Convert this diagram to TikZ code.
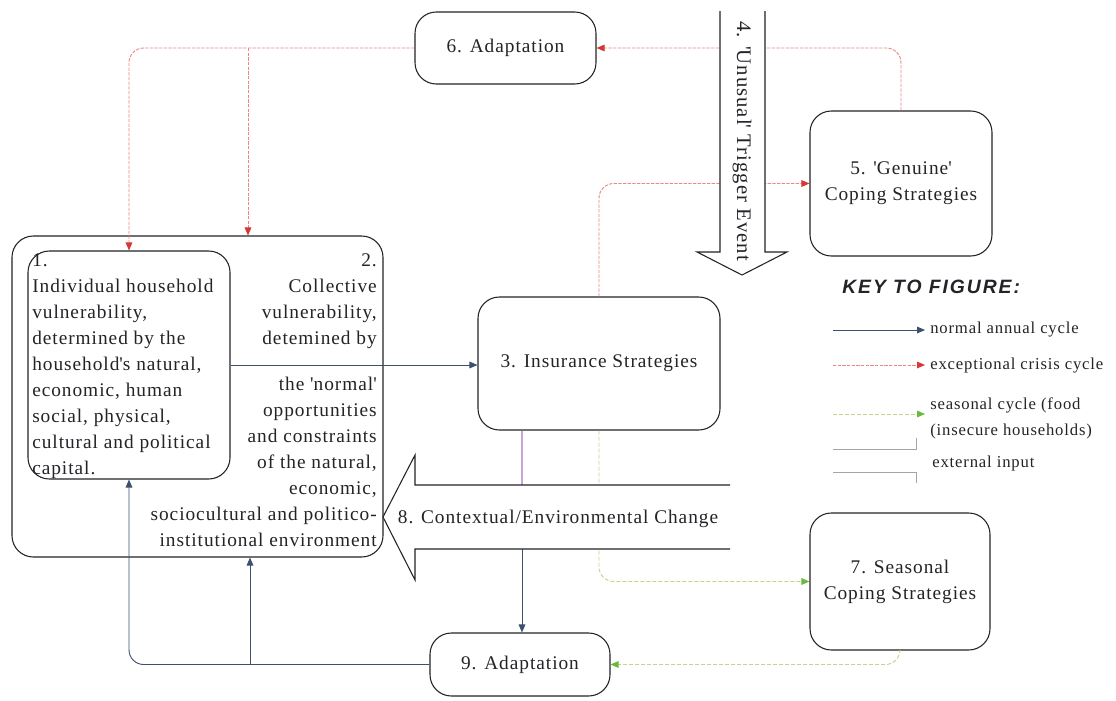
\documentclass[tikz,border=0pt]{standalone}
\usepackage{fontspec}
\setmainfont{Liberation Serif}[LetterSpace=5]
\newfontfamily\keyfont{Liberation Sans}[LetterSpace=10]
\usetikzlibrary{arrows.meta}
\definecolor{ink}{RGB}{35,35,40}
\definecolor{nblue}{RGB}{60,80,110}
\definecolor{cred}{RGB}{235,135,135}
\definecolor{credh}{RGB}{215,55,55}
\definecolor{sgreen}{RGB}{195,212,140}
\definecolor{sgreenh}{RGB}{105,185,60}
\definecolor{ppl}{RGB}{200,165,225}
\definecolor{gry}{RGB}{165,165,165}
\begin{document}
\begin{tikzpicture}[x=0.75pt,y=-0.75pt,
  box/.style={draw=ink, line width=0.8pt, rounded corners=16pt, align=center, inner sep=0pt, text=ink, font=\fontsize{14.5}{19.5}\selectfont},
  txt/.style={inner sep=0pt, text=ink, font=\fontsize{14.5}{19.5}\selectfont},
  keytxt/.style={inner sep=0pt, text=ink, align=left, font=\fontsize{12.5}{19.5}\selectfont},
  keyhead/.style={inner sep=0pt, text=ink, font=\keyfont\bfseries\itshape\fontsize{14.5}{16}\selectfont},
  normal/.style={nblue, line width=0.7pt, -{Triangle[length=6pt,width=5pt]}, rounded corners=11pt},
  crisis/.style={cred, line width=0.7pt, dash pattern=on 2.5pt off 1pt, -{Triangle[length=6pt,width=5pt,color=credh]}, rounded corners=11pt},
  seasonal/.style={sgreen, line width=0.7pt, dash pattern=on 3pt off 1.5pt, -{Triangle[length=6pt,width=5pt,color=sgreenh]}, rounded corners=11pt},
  ext/.style={ppl, line width=0.8pt},
  blockarrow/.style={draw=ink, line width=0.8pt, fill=white},
  keyline/.style={gry, line width=0.7pt}
]
\useasboundingbox (0,0) rectangle (1116,700);

% boxes
\node[box, minimum width=135.75pt, minimum height=54pt] (b6) at (505.5,48) {6. Adaptation};
\node[box, minimum width=136.5pt, minimum height=108.75pt] (b5) at (901,183.5) {5. \textquotesingle Genuine\textquotesingle\\Coping Strategies};
\node[box, minimum width=181.5pt, minimum height=99.75pt] (b3) at (599,363.5) {3. Insurance Strategies};
\node[box, minimum width=135pt, minimum height=102.75pt] (b7) at (900,581.5) {7. Seasonal\\Coping Strategies};
\node[box, minimum width=135pt, minimum height=47.25pt] (b9) at (520,664.5) {9. Adaptation};
\node[box, minimum width=278.25pt, minimum height=240.75pt] (b2) at (197.5,396.5) {};
\node[box, minimum width=151.5pt, minimum height=171pt] (b1) at (129,365) {};

% texts of boxes 1 and 2
\node[txt, anchor=north west, align=left] (t1) at (32,253) {1.\\Individual household\\vulnerability,\\determined by the\\household\textquotesingle s natural,\\economic, human\\social, physical,\\cultural and political\\capital.};
\node[txt, anchor=north east, align=right] (t2a) at (377,253) {2.\\Collective\\vulnerability,\\detemined by};
\node[txt, anchor=north east, align=right] (t2b) at (377,377) {the \textquotesingle normal\textquotesingle\\opportunities\\and constraints\\of the natural,\\economic,\\sociocultural and politico-\\institutional environment};

% coordinates on the block arrow 8
\coordinate (a8top) at (522,485);
\coordinate (a8bot) at (522,549);
\coordinate (br1) at (248,48);
\coordinate (br2) at (250,664.5);

% connectors
\draw[crisis] (b6.west) -| (b1.north);
\draw[crisis] (br1) -- (br1 |- b2.north);
\draw[crisis] (b5.north) |- (b6.east);
\draw[crisis] (b3.north) |- (b5.west);
\draw[normal] (b1.east) -- (b1.east -| b3.west);
\draw[ext] (b3.south -| a8top) -- (a8top);
\draw[seasonal] (b3.south) |- (b7.west);
\draw[normal] (a8bot) -- (a8bot |- b9.north);
\draw[seasonal] (b7.south) |- (b9.east);
\draw[normal] (b9.west) -| (b1.south);
\draw[normal] (br2) -- (br2 |- b2.south);

% block arrow 4
\draw[blockarrow] (720,11) -- (720,252) -- (697,252) -- (742,275) -- (787,252) -- (765,252) -- (765,11);
\node[txt, rotate=-90, font=\fontsize{15.5}{18}\selectfont] (t4) at (742,141) {4. \textquotesingle Unusual\textquotesingle\ Trigger Event};

% block arrow 8
\draw[blockarrow] (730,485) -- (415,485) -- (415,455) -- (383,517) -- (415,580) -- (415,549) -- (730,549);
\node[txt] (t8) at (558,519) {8. Contextual/Environmental Change};

% key
\node[keyhead, anchor=west] (kh) at (842,287) {KEY TO FIGURE:};
\coordinate (k1a) at (833,330); \coordinate (k1b) at (925,330);
\coordinate (k2a) at (833,365); \coordinate (k2b) at (925,365);
\coordinate (k3a) at (833,414); \coordinate (k3b) at (925,414);
\draw[normal] (k1a) -- (k1b);
\draw[crisis] (k2a) -- (k2b);
\draw[seasonal] (k3a) -- (k3b);
\node[keytxt, anchor=west] (k1) at (930,330) {normal annual cycle};
\node[keytxt, anchor=west] (k2) at (930,366) {exceptional crisis cycle};
\node[keytxt, anchor=west] (k3) at (930,418) {seasonal cycle (food\\(insecure households)};
\coordinate (k4a) at (833,449); \coordinate (k4b) at (916,449); \coordinate (k4c) at (916,438);
\coordinate (k4d) at (833,472); \coordinate (k4e) at (916,472); \coordinate (k4f) at (916,483);
\draw[keyline] (k4a) -- (k4b) -- (k4c);
\draw[keyline] (k4d) -- (k4e) -- (k4f);
\node[keytxt, anchor=west] (k4) at (932,463) {external input};
\end{tikzpicture}
\end{document}
